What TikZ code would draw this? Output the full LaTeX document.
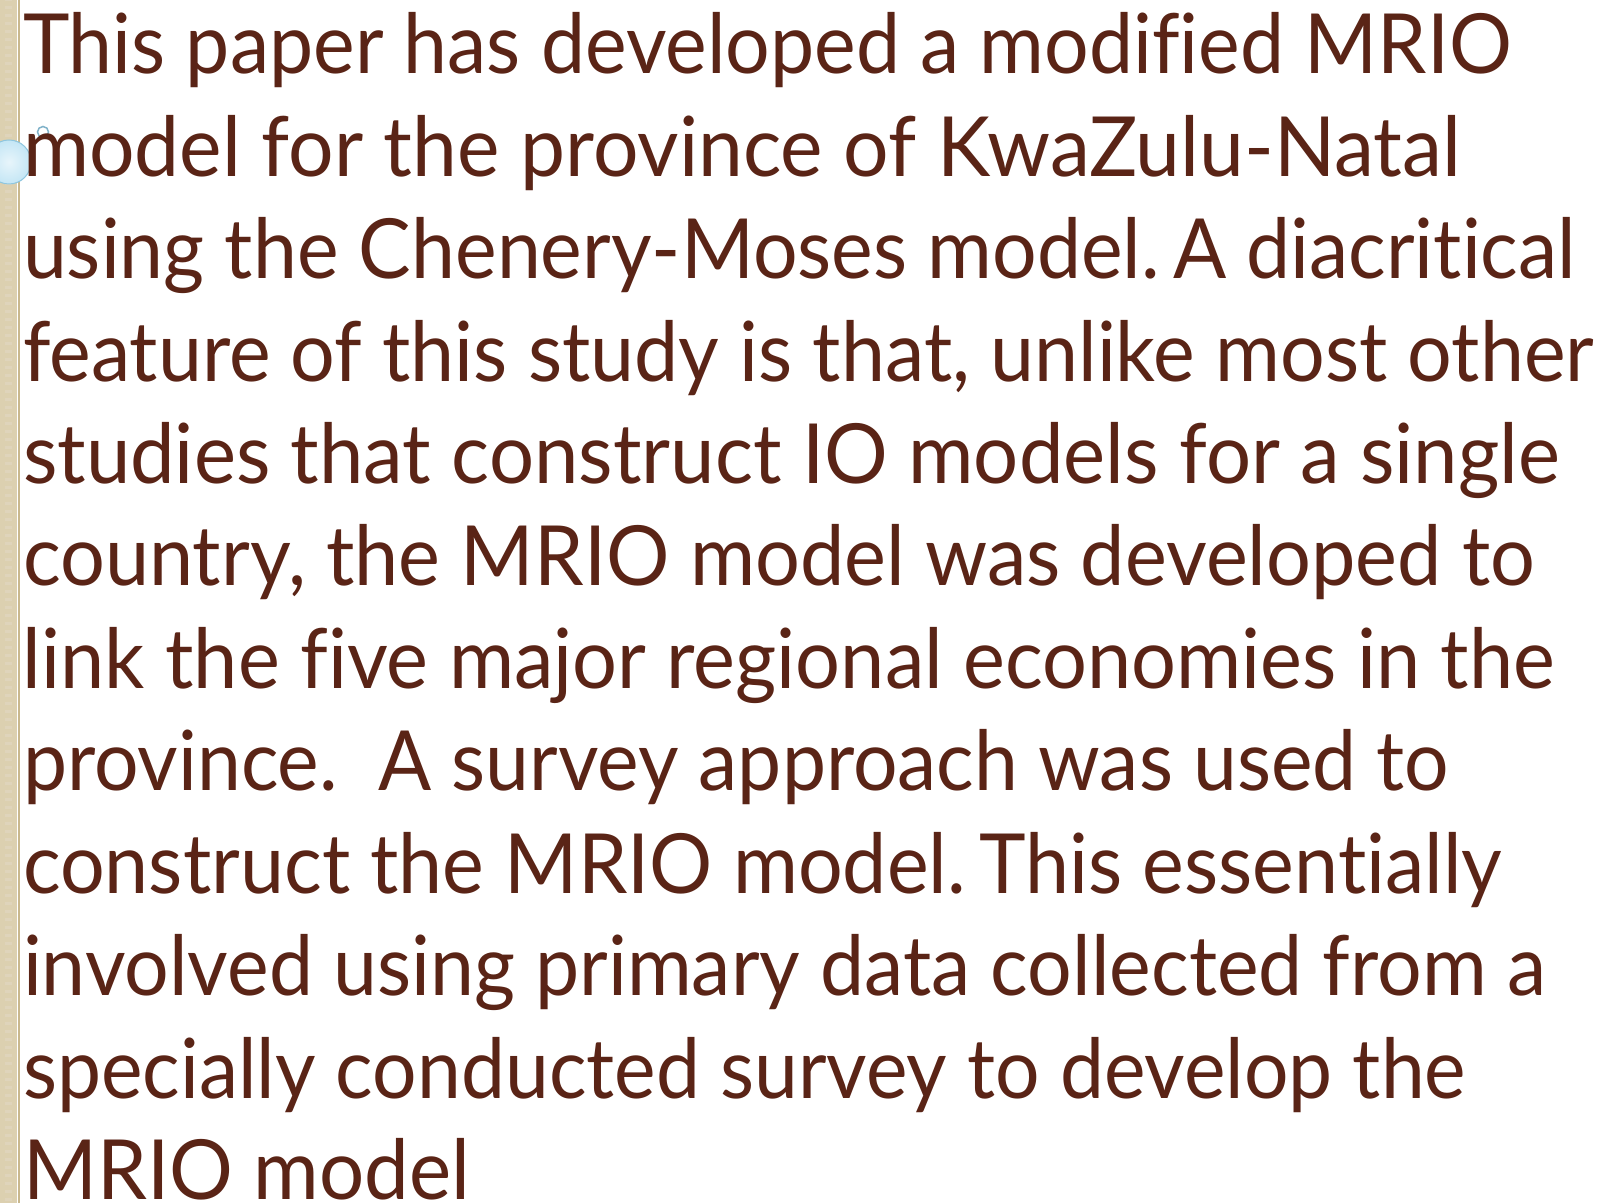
\documentclass[tikz,border=0pt]{standalone}
\usepackage{fontspec}
\setmainfont[Ligatures={NoCommon}]{Lato}
\definecolor{txt}{HTML}{5A2416}
\definecolor{strip}{HTML}{DCD0B0}
\definecolor{stripdark}{HTML}{C9B88E}
\definecolor{bubble}{HTML}{C4E6F5}
\definecolor{bubbleedge}{HTML}{8EC6DF}
\newlength\natw
\newcommand\bodyfont{\fontsize{83}{83}\selectfont}
\newcommand\Ln[4]{%
  \pgfinterruptpicture\normalfont\settowidth\natw{\bodyfont #4}\global\natw=\natw\endpgfinterruptpicture
  \pgfmathsetmacro\sx{#3/\natw}%
  \node[textline, xscale=\sx] (#1) at (23,#2) {#4};%
}
\begin{document}
\begin{tikzpicture}[x=1pt,y=1pt,
  textline/.style={anchor=base west, inner sep=0pt, outer sep=0pt, text=txt, font=\bodyfont}]
\useasboundingbox (0,0) rectangle (1602,1203);
\fill[white] (0,0) rectangle (1602,1203);
% left decorative strip
\fill[strip] (0,0) rectangle (17,1203);
\foreach \yy in {0,8,...,1200} {\fill[stripdark!60] (5,\yy+2) rectangle (12,\yy+5);}
\draw[stripdark, line width=1.5] (19,0) -- (19,1203);
% bubble
\shade[inner color=white!60!bubble, outer color=bubble, draw=bubbleedge, line width=1] (9,1041) circle (22);
\draw[bubbleedge!90!black, line width=1.5] (43,1071) circle (5.5);
% text lines (baselines measured from top: 74 + 102.4*k)
\Ln{l1}{1129}{1489}{This paper has developed a modified MRIO}
\Ln{l2}{1026.6}{1438}{model for the province of KwaZulu-Natal}
\Ln{l3}{924.2}{1553}{using the Chenery-Moses model.\,A diacritical}
\Ln{l4}{821.8}{1571}{feature of this study is that, unlike most other}
\Ln{l5}{719.4}{1537}{studies that construct IO models for a single}
\Ln{l6}{617}{1512}{country, the MRIO model was developed to}
\Ln{l7}{514.6}{1532}{link the five major regional economies in the}
\Ln{l8}{412.2}{1426}{province.\ \ A survey approach was used to}
\Ln{l9}{309.8}{1479}{construct the MRIO model.\,This essentially}
\Ln{l10}{207.4}{1523}{involved using primary data collected from a}
\Ln{l11}{105}{1443}{specially conducted survey to develop the}
\Ln{l12}{3.5}{447}{MRIO model}
\end{tikzpicture}
\end{document}
